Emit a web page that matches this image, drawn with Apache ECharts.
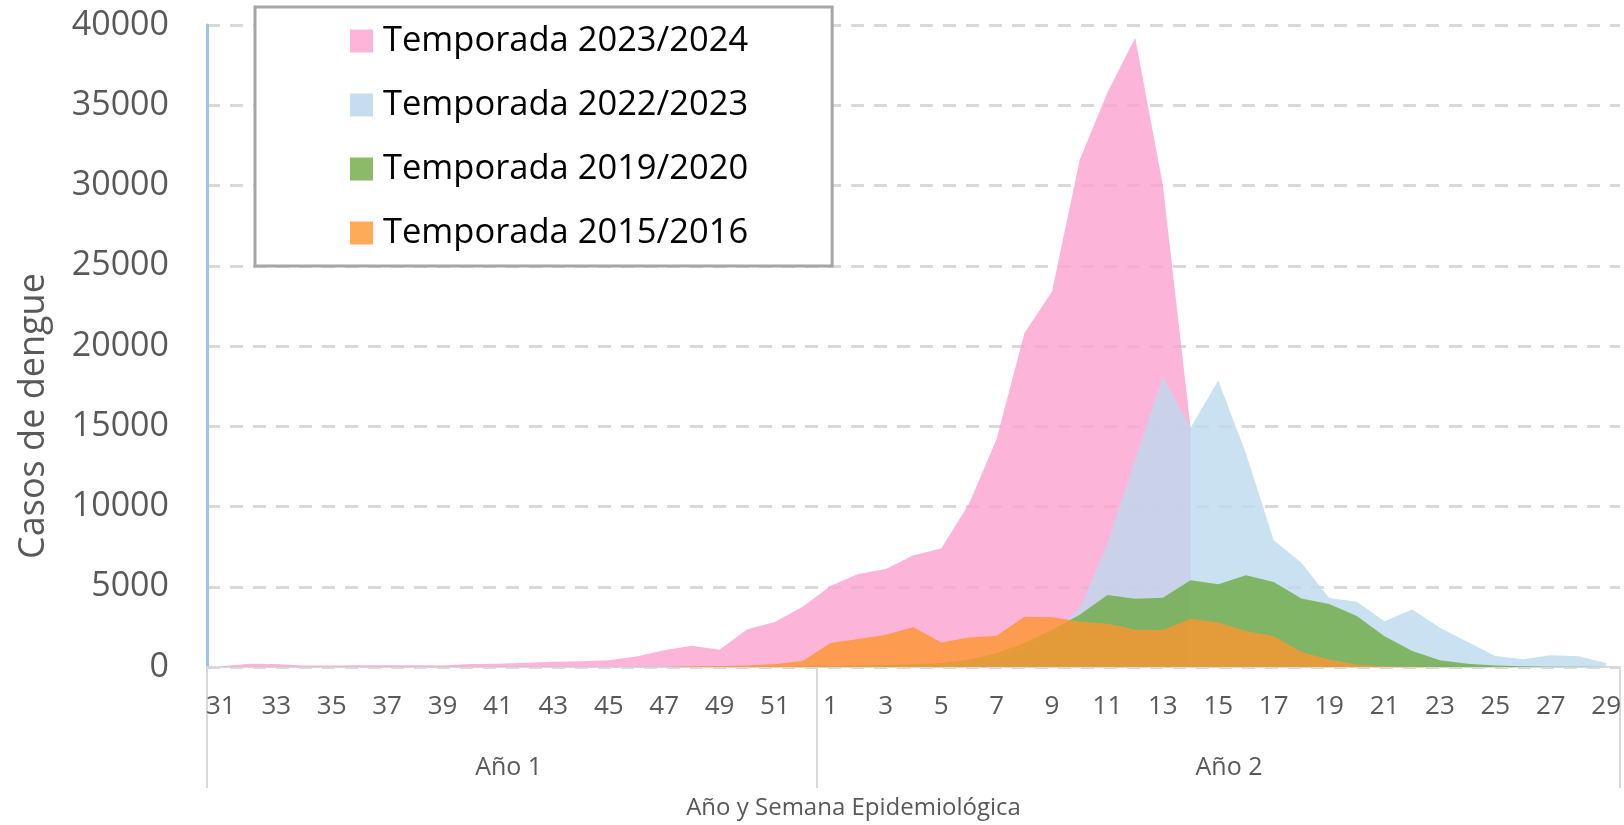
<!DOCTYPE html>
<html>
<head>
<meta charset="utf-8">
<script src="https://cdn.jsdelivr.net/npm/echarts@6/dist/echarts.min.js"></script>
<style>
  html, body { margin: 0; padding: 0; background: #fff; }
  #chart { width: 1624px; height: 825px; }
</style>
</head>
<body>
<div id="chart"></div>
<script>
// Epidemiological weeks: year 1 (31-52) then year 2 (1-29)
const weeksYear1 = ['31','32','33','34','35','36','37','38','39','40','41','42','43','44','45','46','47','48','49','50','51','52']
const weeksYear2 = ['1','2','3','4','5','6','7','8','9','10','11','12','13','14','15','16','17','18','19','20','21','22','23','24','25','26','27','28','29']
const weeks = weeksYear1.concat(weeksYear2)

const seriesNames = ['Temporada 2023/2024', 'Temporada 2022/2023', 'Temporada 2019/2020', 'Temporada 2015/2016']

// Temporada 2023/2024 (data up to week 14 of year 2)
const temp2324 = [
  30, 200, 180, 100, 100, 110, 110, 110, 90, 180, 200, 260, 320, 360, 420, 650, 1050, 1320, 1080, 2350, 2800, 3750,
  5050, 5800, 6100, 6970, 7380, 10150, 14200, 20800, 23400, 31600, 35800, 39200, 30000, 14900,
  null, null, null, null, null, null, null, null, null, null, null, null, null, null, null
]
// Temporada 2022/2023
const temp2223 = [
  20, 20, 20, 20, 20, 20, 20, 20, 20, 20, 20, 20, 20, 20, 20, 20, 20, 20, 20, 20, 30, 30,
  40, 50, 60, 80, 120, 250, 500, 1100, 2100, 3650, 7700, 12900, 18100, 14900, 17850, 13300, 7900, 6500,
  4300, 4060, 2850, 3580, 2440, 1560, 690, 480, 730, 670, 250
]
// Temporada 2019/2020
const temp1920 = [
  0, 0, 0, 0, 0, 0, 0, 0, 0, 0, 0, 0, 0, 0, 0, 0, 0, 0, 0, 10, 20, 30,
  50, 80, 120, 170, 250, 455, 870, 1490, 2320, 3250, 4480, 4260, 4310, 5400, 5150, 5710, 5290, 4270,
  3920, 3170, 1920, 1000, 420, 210, 100, 40, 20, 10, 0
]
// Temporada 2015/2016
const temp1516 = [
  0, 0, 0, 0, 0, 0, 0, 0, 0, 0, 0, 0, 0, 0, 0, 0, 0, 40, 60, 100, 190, 380,
  1490, 1740, 2010, 2480, 1530, 1840, 1950, 3130, 3100, 2840, 2700, 2320, 2300, 3000, 2770, 2250, 1920, 940,
  460, 150, 50, 20, 0, 0, 0, 0, 0, 0, 0
]

const yTicks = [0, 5000, 10000, 15000, 20000, 25000, 30000, 35000, 40000]
const yearLabels = { 11: 'Año 1', 37: 'Año 2' }

const baseColors = ['rgb(252,161,207)', 'rgb(187,217,238)', 'rgb(110,170,68)', 'rgb(253,150,46)']
const legendColors = ['#fdb4d9', '#c8dcef', '#8bbb69', '#fdab58']
const values = [temp2324, temp2223, temp1920, temp1516]

const FONT = 'Open Sans'
const chart = echarts.init(document.getElementById('chart'))

chart.setOption({
  animation: false,
  textStyle: { fontFamily: FONT },
  grid: { left: 207, right: 0, top: 25, bottom: 156 },
  legend: {
    orient: 'vertical',
    left: 255, top: 7,
    padding: [14, 84, 13, 95],
    itemWidth: 23, itemHeight: 23, itemGap: 24,
    icon: 'rect',
    borderColor: '#a6a6a6', borderWidth: 3,
    backgroundColor: '#fff',
    textStyle: { fontFamily: FONT, fontSize: 34.5, lineHeight: 40, color: '#000', padding: [0, 0, 0, 5] },
    data: seriesNames.map((n, i) => ({ name: n, itemStyle: { color: legendColors[i] } }))
  },
  xAxis: [
    {
      type: 'category', data: weeks,
      axisLine: { lineStyle: { color: '#d9d9d9', width: 2 } },
      axisTick: { show: false },
      axisLabel: { interval: 1, color: '#595959', fontSize: 26, margin: 27, fontFamily: FONT },
      splitLine: { show: false }
    },
    {
      // second level: year groups with long separator ticks
      type: 'category', data: weeks, position: 'bottom',
      axisLine: { show: false },
      axisTick: {
        show: true, length: 121,
        interval: (i) => i === 0 || i === 22,
        lineStyle: { color: '#d9d9d9', width: 2 }
      },
      axisLabel: {
        interval: (i) => yearLabels[i] !== undefined,
        formatter: (v, i) => yearLabels[i] || '',
        color: '#595959', fontSize: 25, margin: 88, padding: [0, 34, 0, 0], fontFamily: FONT
      },
      name: 'Año y Semana Epidemiológica',
      nameLocation: 'middle', nameGap: 129,
      nameTextStyle: { color: '#595959', fontSize: 24, padding: [0, 120, 0, 0], fontFamily: FONT }
    }
  ],
  yAxis: {
    type: 'value', min: 0, max: 40000, interval: 5000,
    axisLine: { show: true, lineStyle: { color: '#9dc3e6', width: 3 } },
    axisTick: { show: false },
    axisLabel: {
      color: '#595959', fontSize: 34, margin: 38, fontFamily: FONT,
      formatter: (v) => yTicks.includes(v) ? String(v) : ''
    },
    splitLine: { lineStyle: { color: '#d9d9d9', width: 3, type: [13, 10] } },
    name: 'Casos de dengue',
    nameLocation: 'middle', nameGap: 151,
    nameTextStyle: { color: '#595959', fontSize: 36, lineHeight: 44, padding: [0, 140, 0, 0], fontFamily: FONT }
  },
  series: seriesNames.map((n, i) => ({
    name: n, type: 'line', data: values[i],
    showSymbol: false, symbol: 'none',
    lineStyle: { width: 0 },
    itemStyle: { color: baseColors[i] },
    areaStyle: { color: baseColors[i], opacity: 0.8 }
  }))
})
</script>
</body>
</html>
